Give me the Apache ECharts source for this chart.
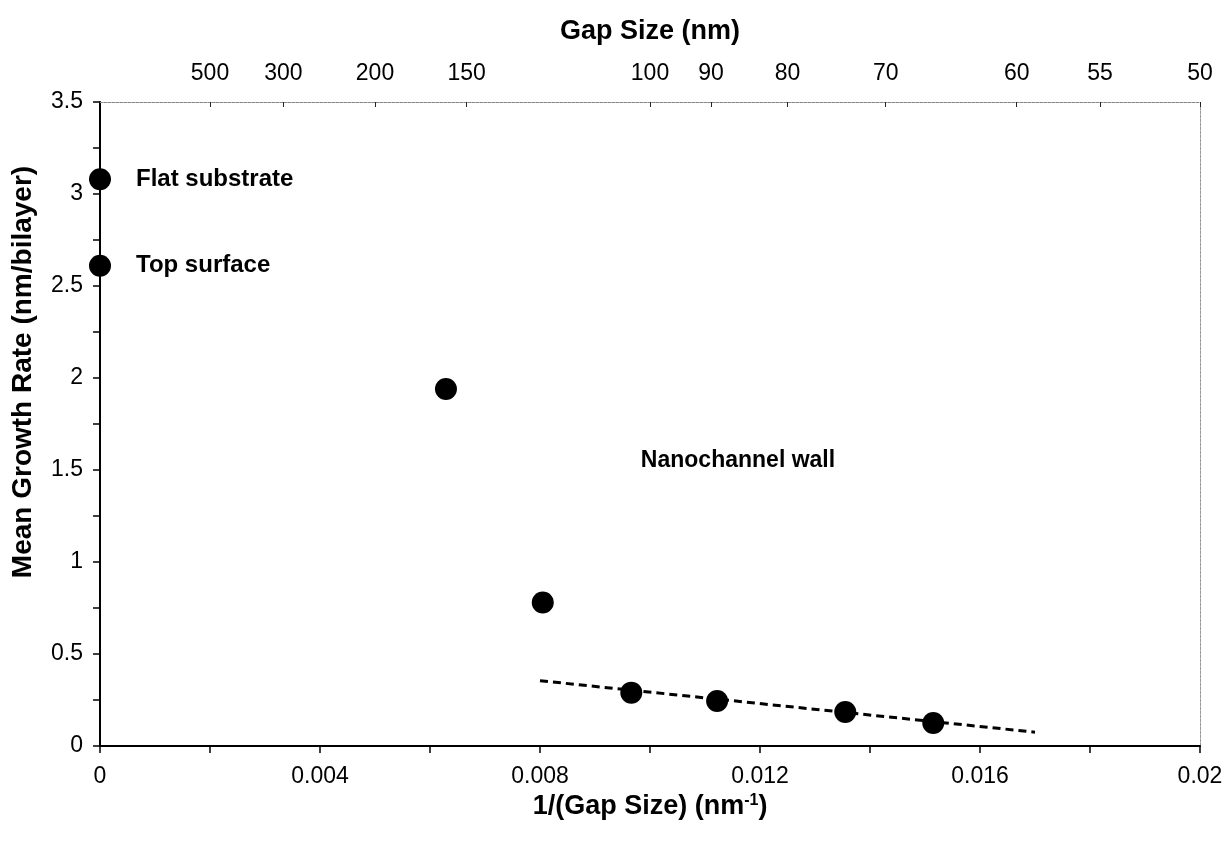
<!DOCTYPE html>
<html>
<head>
<meta charset="utf-8">
<script src="https://cdn.jsdelivr.net/npm/echarts@6/dist/echarts.min.js"></script>
<style>
  html, body { margin: 0; padding: 0; background: #fff; }
  #chart { width: 1230px; height: 841px; }
</style>
</head>
<body>
<div id="chart"></div>
<script>
// measured points: x = 1/(gap size), y = mean growth rate
const invGap = [0, 0, 0.00629, 0.00805, 0.00966, 0.01122, 0.01355, 0.01515];
const growth = [3.08, 2.61, 1.94, 0.78, 0.29, 0.245, 0.185, 0.125];
const pointNames = ['Flat substrate', 'Top surface', '', '', '', '', '', ''];

// dashed fit through the nanochannel wall points
const fitX = [0.0080, 0.0170];
const fitY = [0.355, 0.075];

// top axis: gap sizes in nm
const gapTicks = [500, 300, 200, 150, 100, 90, 80, 70, 60, 55, 50];

// free text label
const wallLabel = { x: 0.0116, y: 1.55, text: 'Nanochannel wall' };

const font = '"Liberation Sans", Arial, sans-serif';
const chart = echarts.init(document.getElementById('chart'));

const option = {
    backgroundColor: '#fff',
    animation: false,
    textStyle: { fontFamily: font, color: '#000' },
    grid: { left: 100, right: 30, top: 102, bottom: 95 },
    xAxis: [
        {
            type: 'value',
            position: 'bottom',
            min: 0,
            max: 0.02,
            interval: 0.004,
            name: '1/(Gap Size) (nm{sup|-1})',
            nameLocation: 'middle',
            nameGap: 46,
            nameTextStyle: {
                fontFamily: font, fontSize: 27, fontWeight: 'bold', color: '#000',
                rich: { sup: { fontFamily: font, fontSize: 16, fontWeight: 'bold', verticalAlign: 'top', padding: [0, 0, 12, 0] } }
            },
            axisLine: { onZero: false, lineStyle: { color: '#000', width: 2 } },
            axisTick: { show: true, length: 7, lineStyle: { color: '#000', width: 1.5 } },
            minorTick: { show: true, splitNumber: 2, length: 7, lineStyle: { color: '#000', width: 1.5 } },
            axisLabel: {
                margin: 19, fontSize: 23, color: '#000', fontFamily: font,
                formatter: v => (v === 0 ? '0' : String(+v.toFixed(3)))
            },
            splitLine: { show: false }
        },
        {
            type: 'value',
            position: 'top',
            min: 0,
            max: 0.02,
            name: 'Gap Size (nm)',
            nameLocation: 'middle',
            nameGap: 57,
            nameTextStyle: { fontFamily: font, fontSize: 27, fontWeight: 'bold', color: '#000' },
            axisLine: { onZero: false, lineStyle: { color: '#888', width: 1, type: [3, 1] } },
            axisTick: {
                show: true, inside: true, length: 5,
                customValues: gapTicks.map(g => 1 / g),
                lineStyle: { color: '#222', width: 1 }
            },
            axisLabel: {
                margin: 17, fontSize: 23, color: '#000', fontFamily: font,
                customValues: gapTicks.map(g => 1 / g),
                formatter: v => String(Math.round(1 / v))
            },
            splitLine: { show: false }
        }
    ],
    yAxis: [
        {
            type: 'value',
            min: 0,
            max: 3.5,
            interval: 0.5,
            name: 'Mean Growth Rate (nm/bilayer)',
            nameLocation: 'middle',
            nameGap: 63,
            nameTextStyle: {
                fontFamily: font, fontSize: 28, fontWeight: 'bold', color: '#000',
                padding: [0, 0, 0, 104]
            },
            axisLine: { show: true, onZero: false, lineStyle: { color: '#000', width: 2 } },
            axisTick: { show: true, length: 7, lineStyle: { color: '#000', width: 1.5 } },
            minorTick: { show: true, splitNumber: 2, length: 7, lineStyle: { color: '#000', width: 1.5 } },
            axisLabel: { margin: 17, fontSize: 23, color: '#000', fontFamily: font },
            splitLine: { show: false }
        },
        {
            type: 'value',
            position: 'right',
            min: 0,
            max: 3.5,
            axisLine: { show: true, onZero: false, lineStyle: { color: '#999', width: 1, type: [3, 1] } },
            axisTick: { show: false },
            axisLabel: { show: false },
            splitLine: { show: false }
        }
    ],
    series: [
        {
            name: 'fit',
            type: 'line',
            data: fitX.map((x, i) => [x, fitY[i]]),
            showSymbol: false,
            symbol: 'none',
            lineStyle: { color: '#000', width: 3, type: [8, 5] },
            z: 2
        },
        {
            name: 'growth',
            type: 'scatter',
            clip: false,
            symbolSize: 22,
            itemStyle: { color: '#000', opacity: 1 },
            data: invGap.map((x, i) => ({ value: [x, growth[i]], name: pointNames[i] })),
            label: {
                show: true,
                position: 'right',
                distance: 25,
                formatter: p => p.name,
                fontFamily: font,
                fontSize: 24,
                fontWeight: 'bold',
                color: '#000',
                opacity: 1
            },
            z: 3
        },
        {
            name: 'annotation',
            type: 'scatter',
            symbolSize: 0,
            data: [{ value: [wallLabel.x, wallLabel.y], name: wallLabel.text }],
            itemStyle: { opacity: 1 },
            label: {
                show: true,
                position: 'inside',
                formatter: p => p.name,
                fontFamily: font,
                fontSize: 23,
                fontWeight: 'bold',
                color: '#000',
                opacity: 1
            }
        }
    ]
};

option && chart.setOption(option);
</script>
</body>
</html>
